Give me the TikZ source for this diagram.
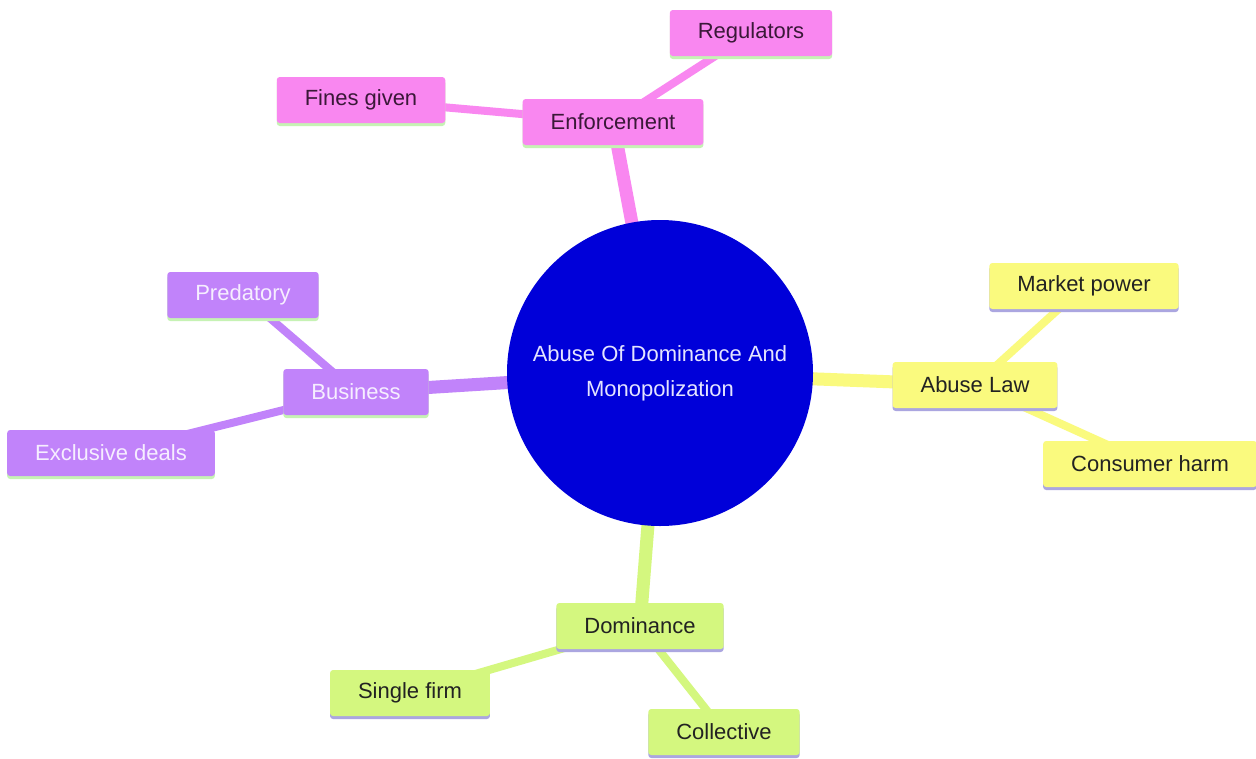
\documentclass[tikz,border=0pt]{standalone}
\usepackage{fontspec}
\setmainfont{Liberation Sans}
\usetikzlibrary{shadows,backgrounds}
\pgfdeclarelayer{bottom}
\pgfdeclarelayer{background}
\pgfsetlayers{bottom,background,main}
\definecolor{pinkc}{HTML}{F987F0}
\definecolor{purplec}{HTML}{C183FA}
\definecolor{yellowc}{HTML}{FAFA7E}
\definecolor{greenc}{HTML}{D4F77F}
\definecolor{bluec}{HTML}{0000D9}
\definecolor{pinktext}{HTML}{3A1838}
\definecolor{purpletext}{HTML}{F6EEFF}
\definecolor{darktext}{HTML}{222222}
\definecolor{greenul}{HTML}{C6F2B4}
\definecolor{lavul}{HTML}{ABA6E0}
\definecolor{centertext}{HTML}{E4E4FF}
\tikzset{
  box/.style={rectangle, rounded corners=3pt, inner xsep=28pt, inner ysep=0pt,
    minimum height=46pt, font=\fontsize{22}{26}\selectfont},
  ulgreen/.style={drop shadow={shadow xshift=0pt, shadow yshift=-3pt, fill=greenul, opacity=1}},
  ullav/.style={drop shadow={shadow xshift=0pt, shadow yshift=-3pt, fill=lavul, opacity=1}},
  pinkbox/.style={box, fill=pinkc, text=pinktext, ulgreen},
  purplebox/.style={box, fill=purplec, text=purpletext, ulgreen},
  yellowbox/.style={box, fill=yellowc, text=darktext, ullav},
  greenbox/.style={box, fill=greenc, text=darktext, ullav},
  mainlink/.style={line width=13pt},
  sublink/.style={line width=8pt},
}
\begin{document}
\begin{tikzpicture}[x=1pt,y=-1pt]
\begin{pgfonlayer}{bottom}
\fill[white] (0,0) rectangle (1256,758);
\end{pgfonlayer}
\useasboundingbox (0,0) rectangle (1256,758);

\node[circle, fill=bluec, minimum size=306pt, inner sep=0pt, text=centertext,
  align=center, font=\fontsize{22}{35}\selectfont] (root) at (660,373)
  {Abuse Of Dominance And\\Monopolization};

\node[pinkbox] (enf) at (613,122) {Enforcement};
\node[pinkbox] (reg) at (751,33) {Regulators};
\node[pinkbox] (fin) at (361,100) {Fines given};

\node[purplebox] (bus) at (356,392) {Business};
\node[purplebox] (pre) at (243,295) {Predatory};
\node[purplebox] (exc) at (111,453) {Exclusive deals};

\node[yellowbox] (law) at (975,385) {Abuse Law};
\node[yellowbox] (mkt) at (1084,286) {Market power};
\node[yellowbox] (con) at (1150,464) {Consumer harm};

\node[greenbox] (dom) at (640,626) {Dominance};
\node[greenbox] (sin) at (410,693) {Single firm};
\node[greenbox] (col) at (724,732) {Collective};

\begin{pgfonlayer}{background}
\draw[mainlink, pinkc] (root.center) -- (enf.center);
\draw[sublink, pinkc] (enf.center) -- (reg.center);
\draw[sublink, pinkc] (enf.center) -- (fin.center);
\draw[mainlink, purplec] (root.center) -- (bus.center);
\draw[sublink, purplec] (bus.center) -- (pre.center);
\draw[sublink, purplec] (bus.center) -- (exc.center);
\draw[mainlink, yellowc] (root.center) -- (law.center);
\draw[sublink, yellowc] (law.center) -- (mkt.center);
\draw[sublink, yellowc] (law.center) -- (con.center);
\draw[mainlink, greenc] (root.center) -- (dom.center);
\draw[sublink, greenc] (dom.center) -- (sin.center);
\draw[sublink, greenc] (dom.center) -- (col.center);
\end{pgfonlayer}
\end{tikzpicture}
\end{document}
